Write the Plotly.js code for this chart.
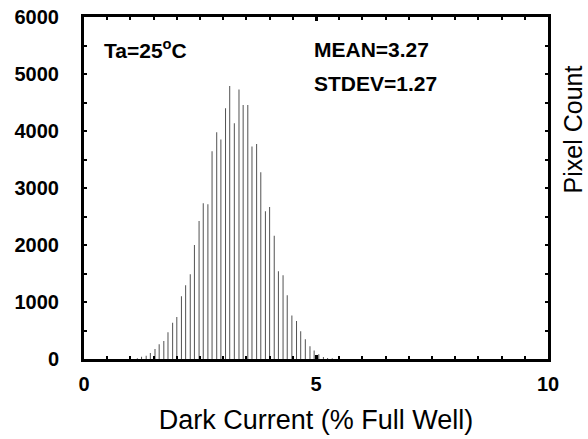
<!DOCTYPE html>
<html>
<head>
<meta charset="utf-8">
<script src="https://cdn.plot.ly/plotly-3.0.1.min.js"></script>
<style>html,body{margin:0;padding:0;background:#fff;}#chart{width:588px;height:439px;}</style>
</head>
<body>
<div id="chart"></div>
<script>
// Bin centres (% Full Well) and pixel counts
var darkCurrent = [1.15,1.24,1.34,1.43,1.53,1.62,1.72,1.81,1.91,2.00,
  2.10,2.19,2.29,2.38,2.48,2.57,2.67,2.76,2.86,2.95,
  3.05,3.14,3.24,3.34,3.43,3.53,3.62,3.72,3.81,3.91,
  4.00,4.10,4.19,4.29,4.38,4.48,4.58,4.67,4.77,4.87,
  4.96,5.06,5.16,5.25,5.35];
var pixelCount = [15,40,58,105,175,257,316,468,638,737,
  1100,1293,1486,2000,2421,2732,2714,3644,3977,3849,
  4398,4790,4135,4726,4456,4456,3726,3772,3275,2591,
  2667,2164,1539,1468,1118,761,667,486,346,223,
  147,82,35,18,12];
var xTicks = [0,5,10];
var yTicks = [0,1000,2000,3000,4000,5000,6000];
var labelTa = 'Ta=25<sup>o</sup>C';
var labelMean = 'MEAN=3.27';
var labelStdev = 'STDEV=1.27';

var FAM = 'Liberation Sans, Arial, sans-serif';

var trace = {
  type: 'bar',
  x: darkCurrent,
  y: pixelCount,
  width: 0.022,
  marker: {color: '#555555', line: {width: 0}},
  hoverinfo: 'x+y'
};

var boldFont = {family: FAM, size: 20, color: '#000', weight: 'bold'};

var layout = {
  width: 588,
  height: 439,
  margin: {l: 84, r: 40, t: 17, b: 80},
  paper_bgcolor: '#fff',
  plot_bgcolor: '#fff',
  showlegend: false,
  font: {family: FAM, color: '#000'},
  xaxis: {
    range: [0, 10],
    tickvals: xTicks,
    ticktext: xTicks.map(String),
    ticks: 'inside',
    ticklen: 4,
    tickwidth: 3,
    tickcolor: '#000',
    minor: {dtick: 0.5, ticks: 'inside', ticklen: 3, tickwidth: 2, tickcolor: '#000'},
    showline: true,
    linewidth: 3,
    linecolor: '#000',
    mirror: 'ticks',
    showgrid: false,
    zeroline: false,
    tickfont: boldFont,
    ticklabelstandoff: 5,
    title: {text: 'Dark Current (% Full Well)', font: {family: FAM, size: 27, color: '#000'}, standoff: 17}
  },
  yaxis: {
    range: [0, 6000],
    tickvals: yTicks,
    ticktext: yTicks.map(String),
    ticks: 'inside',
    ticklen: 3,
    tickwidth: 2,
    tickcolor: '#000',
    minor: {dtick: 500, ticks: 'inside', ticklen: 3, tickwidth: 2, tickcolor: '#000'},
    showline: true,
    linewidth: 3,
    linecolor: '#000',
    mirror: 'ticks',
    showgrid: false,
    zeroline: false,
    tickfont: boldFont,
    ticklabelstandoff: 18
  },
  annotations: [
    {xref: 'paper', yref: 'paper', x: 0.039, y: 0.906, xanchor: 'left', yanchor: 'middle', showarrow: false,
     text: labelTa, font: {family: FAM, size: 21, color: '#000', weight: 'bold'}},
    {xref: 'paper', yref: 'paper', x: 0.491, y: 0.906, xanchor: 'left', yanchor: 'middle', showarrow: false,
     text: labelMean, font: {family: FAM, size: 21, color: '#000', weight: 'bold'}},
    {xref: 'paper', yref: 'paper', x: 0.491, y: 0.807, xanchor: 'left', yanchor: 'middle', showarrow: false,
     text: labelStdev, font: {family: FAM, size: 21, color: '#000', weight: 'bold'}},
    {xref: 'paper', yref: 'paper', x: 1.053, y: 0.67, xanchor: 'center', yanchor: 'middle', showarrow: false, textangle: -90,
     text: 'Pixel Count', font: {family: FAM, size: 25, color: '#000'}}
  ]
};

Plotly.newPlot('chart', [trace], layout, {displayModeBar: false, staticPlot: true});
</script>
</body>
</html>
